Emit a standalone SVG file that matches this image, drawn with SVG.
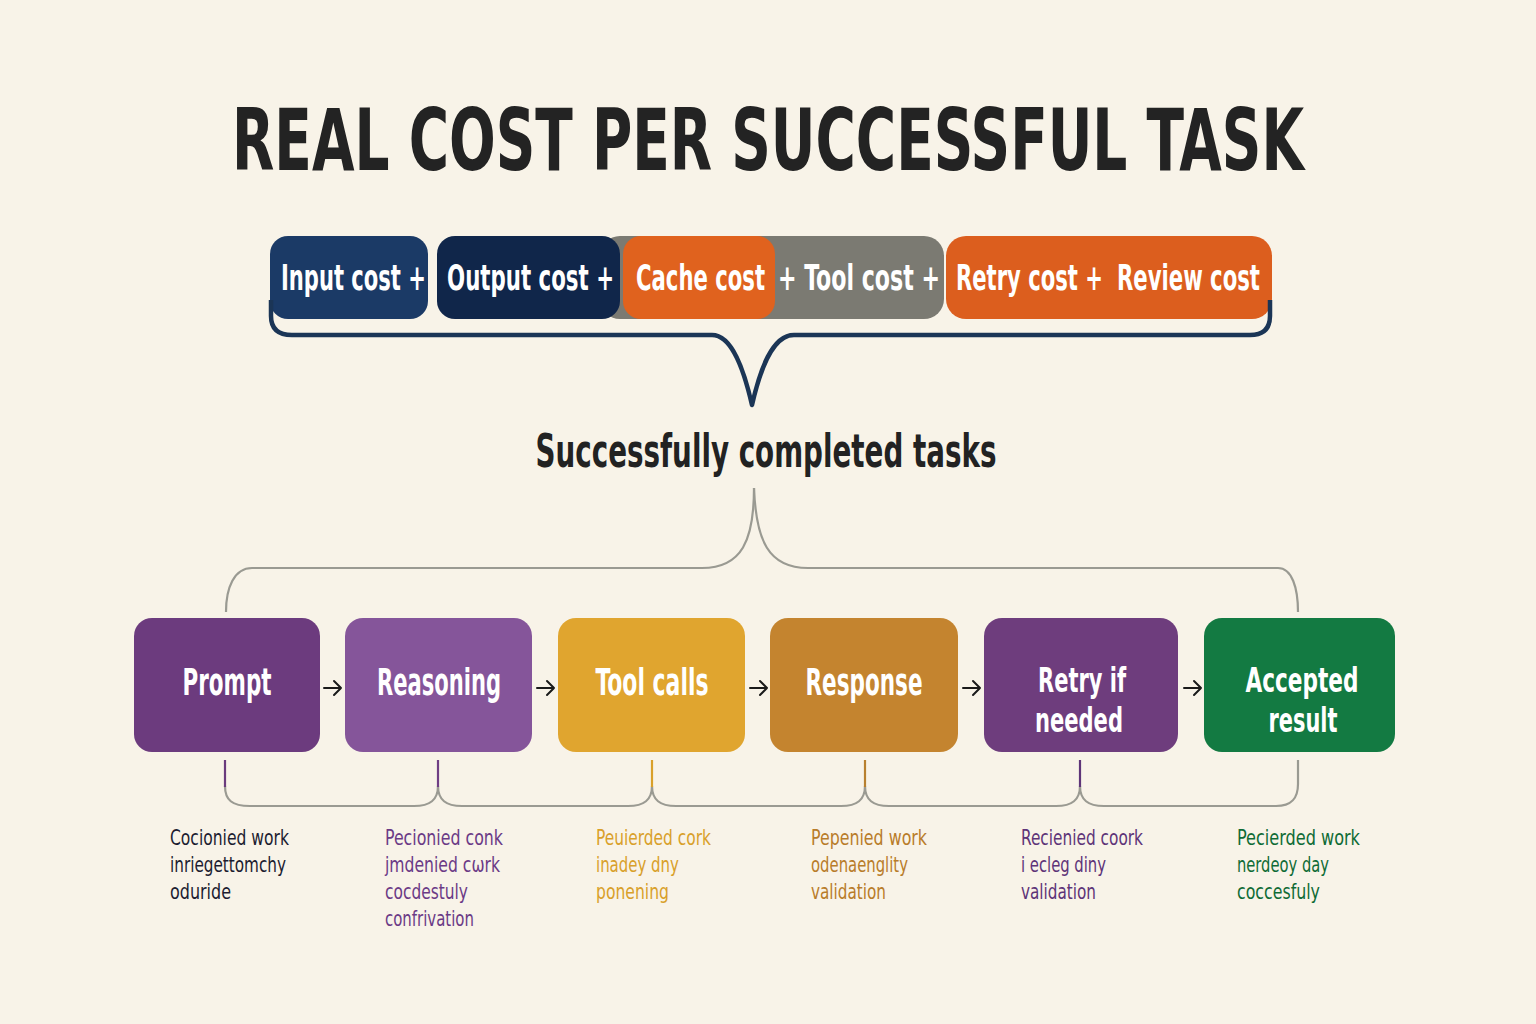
<svg xmlns="http://www.w3.org/2000/svg" width="1536" height="1024" viewBox="0 0 1536 1024">
<style>
.t{font-family:"DejaVu Sans Condensed","DejaVu Sans","Liberation Sans",sans-serif;font-stretch:condensed;}
.chip{fill:#ffffff;font-size:36px;font-weight:bold;}
.box{fill:#ffffff;font-size:37px;font-weight:bold;text-anchor:middle;}
.box2{fill:#ffffff;font-size:34px;font-weight:bold;text-anchor:middle;}
.sub{font-size:22px;}
.gray{fill:none;stroke:#9a9a92;stroke-width:2.2;}
.arr{fill:none;stroke:#1a1a1a;stroke-width:2;stroke-linecap:round;stroke-linejoin:round;}
</style>
<rect width="1536" height="1024" fill="#f8f3e8"/>

<g id="title">
<text class="t" transform="scale(0.72 1)" x="1066.7" y="170" text-anchor="middle" font-size="86" font-weight="bold" fill="#232323" textLength="1488.9" lengthAdjust="spacingAndGlyphs">REAL COST PER SUCCESSFUL TASK</text>
</g>

<g id="cost-bar">
<rect x="600" y="236" width="344" height="83" rx="20" fill="#7b7a72"/>
<rect x="270" y="236" width="158" height="83" rx="18" fill="#1b3a66"/>
<rect x="437" y="236" width="183" height="83" rx="18" fill="#10264a"/>
<rect x="623" y="236" width="152" height="83" rx="18" fill="#e0621e"/>
<rect x="946" y="236" width="326" height="83" rx="20" fill="#dc5e1e"/>
<g transform="scale(0.7 1)">
<text class="t chip" x="401.4" y="290" textLength="207.1" lengthAdjust="spacingAndGlyphs">Input cost +</text>
<text class="t chip" x="638.6" y="290" textLength="238.6" lengthAdjust="spacingAndGlyphs">Output cost +</text>
<text class="t chip" x="908.6" y="290" textLength="184.3" lengthAdjust="spacingAndGlyphs">Cache cost</text>
<text class="t chip" x="1111.4" y="290" textLength="231.4" lengthAdjust="spacingAndGlyphs">+ Tool cost +</text>
<text class="t chip" x="1365.7" y="290" textLength="210" lengthAdjust="spacingAndGlyphs">Retry cost +</text>
<text class="t chip" x="1595.7" y="290" textLength="204.3" lengthAdjust="spacingAndGlyphs">Review cost</text>
</g>
</g>

<g id="connectors">
<path d="M271 300 L271 316 Q271 335 292 335 L712 335 C732 335 744 370 752 405 C760 370 772 335 794 335 L1250 335 Q1270 335 1270 316 L1270 300" fill="none" stroke="#1b3556" stroke-width="4.5" stroke-linejoin="round"/>
<path class="gray" d="M754 488 C754 540 742 568 702 568 L252 568 C234 568 226 588 226 612"/>
<path class="gray" d="M754 488 C756 540 768 568 808 568 L1278 568 C1292 568 1298 588 1298 612"/>
<path class="arr" d="M324 688 L341 688 M334 681 L341 688 L334 695"/>
<path class="arr" d="M537 688 L554 688 M547 681 L554 688 L547 695"/>
<path class="arr" d="M750 688 L767 688 M760 681 L767 688 L760 695"/>
<path class="arr" d="M963 688 L980 688 M973 681 L980 688 L973 695"/>
<path class="arr" d="M1184 688 L1201 688 M1194 681 L1201 688 L1194 695"/>
<path class="gray" d="M225 786 C225 800 232 806 250 806 L414 806 C430 806 438 800 438 786 C438 800 446 806 462 806 L628 806 C644 806 652 800 652 786 C652 800 660 806 676 806 L841 806 C857 806 865 800 865 786 C865 800 873 806 889 806 L1056 806 C1072 806 1080 800 1080 786 C1080 800 1088 806 1104 806 L1276 806 C1292 806 1298 798 1298 784 L1298 760"/>
<line x1="225" y1="760" x2="225" y2="787" stroke="#6b3b7d" stroke-width="2.2"/>
<line x1="438" y1="760" x2="438" y2="787" stroke="#6f3e84" stroke-width="2.2"/>
<line x1="652" y1="760" x2="652" y2="787" stroke="#d9a02a" stroke-width="2.2"/>
<line x1="865" y1="760" x2="865" y2="787" stroke="#b8802f" stroke-width="2.2"/>
<line x1="1080" y1="760" x2="1080" y2="787" stroke="#5e3478" stroke-width="2.2"/>
</g>

<g id="subtitle">
<text class="t" transform="scale(0.72 1)" x="1063.9" y="467" text-anchor="middle" font-size="46" font-weight="bold" fill="#222222" textLength="640.3" lengthAdjust="spacingAndGlyphs">Successfully completed tasks</text>
</g>

<g id="node-prompt">
<rect x="134" y="618" width="186" height="134" rx="18" fill="#6c3b7e"/>
<text class="t box" transform="scale(0.72 1)" x="315.3" y="695" textLength="123.6" lengthAdjust="spacingAndGlyphs">Prompt</text>
<g class="t sub" fill="#1c1c30" transform="scale(0.82 1)">
<text x="207.3" y="845" textLength="145.1" lengthAdjust="spacingAndGlyphs">Cocionied work</text>
<text x="207.3" y="872" textLength="141.5" lengthAdjust="spacingAndGlyphs">inriegettomchy</text>
<text x="207.3" y="899" textLength="74.4" lengthAdjust="spacingAndGlyphs">oduride</text>
</g>
</g>

<g id="node-reasoning">
<rect x="345" y="618" width="187" height="134" rx="18" fill="#85559a"/>
<text class="t box" transform="scale(0.72 1)" x="609.7" y="695" textLength="172.2" lengthAdjust="spacingAndGlyphs">Reasoning</text>
<g class="t sub" fill="#6b3a86" transform="scale(0.82 1)">
<text x="469.5" y="845" textLength="143.9" lengthAdjust="spacingAndGlyphs">Pecionied conk</text>
<text x="469.5" y="872" textLength="140.2" lengthAdjust="spacingAndGlyphs">jmdenied cωrk</text>
<text x="469.5" y="899" textLength="101.2" lengthAdjust="spacingAndGlyphs">cocdestuly</text>
<text x="469.5" y="926" textLength="108.5" lengthAdjust="spacingAndGlyphs">confrivation</text>
</g>
</g>

<g id="node-toolcalls">
<rect x="558" y="618" width="187" height="134" rx="18" fill="#e0a52f"/>
<text class="t box" transform="scale(0.72 1)" x="905.6" y="695" textLength="156.9" lengthAdjust="spacingAndGlyphs">Tool calls</text>
<g class="t sub" fill="#d9a02a" transform="scale(0.82 1)">
<text x="726.8" y="845" textLength="140.2" lengthAdjust="spacingAndGlyphs">Peuierded cork</text>
<text x="726.8" y="872" textLength="101.2" lengthAdjust="spacingAndGlyphs">inadey dny</text>
<text x="726.8" y="899" textLength="89" lengthAdjust="spacingAndGlyphs">ponening</text>
</g>
</g>

<g id="node-response">
<rect x="770" y="618" width="188" height="134" rx="18" fill="#c4842f"/>
<text class="t box" transform="scale(0.72 1)" x="1200" y="695" textLength="162.5" lengthAdjust="spacingAndGlyphs">Response</text>
<g class="t sub" fill="#b87c2a" transform="scale(0.82 1)">
<text x="989" y="845" textLength="141.5" lengthAdjust="spacingAndGlyphs">Pepenied work</text>
<text x="989" y="872" textLength="118.3" lengthAdjust="spacingAndGlyphs">odenaenglity</text>
<text x="989" y="899" textLength="91.5" lengthAdjust="spacingAndGlyphs">validation</text>
</g>
</g>

<g id="node-retry">
<rect x="984" y="618" width="194" height="134" rx="18" fill="#6e3d7d"/>
<text class="t box2" transform="scale(0.72 1)" x="1502.8" y="692" textLength="122.2" lengthAdjust="spacingAndGlyphs">Retry if</text>
<text class="t box2" transform="scale(0.72 1)" x="1498.6" y="732" textLength="122.2" lengthAdjust="spacingAndGlyphs">needed</text>
<g class="t sub" fill="#5e3478" transform="scale(0.82 1)">
<text x="1245.1" y="845" textLength="148.8" lengthAdjust="spacingAndGlyphs">Recienied coork</text>
<text x="1245.1" y="872" textLength="103.7" lengthAdjust="spacingAndGlyphs">i ecleg diny</text>
<text x="1245.1" y="899" textLength="91.5" lengthAdjust="spacingAndGlyphs">validation</text>
</g>
</g>

<g id="node-accepted">
<rect x="1204" y="618" width="191" height="134" rx="18" fill="#137a42"/>
<text class="t box2" transform="scale(0.72 1)" x="1808.3" y="692" textLength="156.9" lengthAdjust="spacingAndGlyphs">Accepted</text>
<text class="t box2" transform="scale(0.72 1)" x="1809.7" y="732" textLength="95.8" lengthAdjust="spacingAndGlyphs">result</text>
<g class="t sub" fill="#0f6b35" transform="scale(0.82 1)">
<text x="1508.5" y="845" textLength="150" lengthAdjust="spacingAndGlyphs">Pecierded work</text>
<text x="1508.5" y="872" textLength="112.2" lengthAdjust="spacingAndGlyphs">nerdeoy day</text>
<text x="1508.5" y="899" textLength="101.2" lengthAdjust="spacingAndGlyphs">coccesfuly</text>
</g>
</g>
</svg>
